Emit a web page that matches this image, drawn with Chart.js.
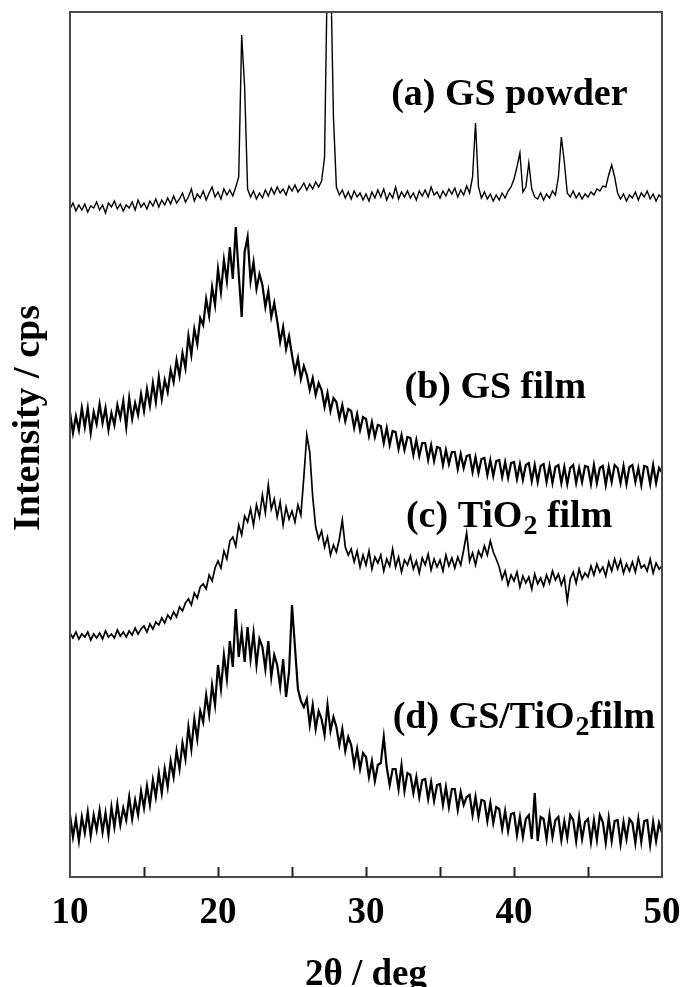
<!DOCTYPE html>
<html>
<head>
<meta charset="utf-8">
<title>XRD patterns</title>
<script src="https://cdn.jsdelivr.net/npm/chart.js@4.4.1/dist/chart.umd.min.js"></script>
<style>
  html, body { margin: 0; padding: 0; background: #fff; }
  #wrap { width: 683px; height: 987px; }
</style>
</head>
<body>
<div id="wrap"><canvas id="xrd" width="683" height="987"></canvas></div>
<script>
/* ── XRD patterns, four stacked traces ──────────────────────────────────────
   2θ is sampled every 0.2° from 10° to 50° (201 points per trace).
   Intensities are in arbitrary units, already offset for stacking.
─────────────────────────────────────────────────────────────────────────── */

const TWO_THETA_START = 10;
const TWO_THETA_STEP  = 0.2;

// (a) GS powder
const gsPowder = [
  668,674,666,672,667, 673,665,671,669,675, 667,672,664,674,670, 676,668,673,666,672,
  669,675,667,677,670, 674,668,676,671,678, 670,677,672,679,673, 681,674,678,684,675,
  680,688,676,683,679, 686,677,684,690,680, 685,678,688,682,687, 681,690,700,842,790,
  688,680,686,678,684, 679,687,681,689,683, 690,684,688,682,691, 686,692,685,689,694,
  687,693,688,695,690, 696,720,920,920,760, 690,682,687,679,685, 678,686,680,684,677,
  683,676,685,679,687, 680,688,677,684,679, 690,678,685,680,686, 679,684,677,686,681,
  687,680,690,682,685, 679,686,681,688,683, 689,680,687,682,691, 684,700,754,690,679,
  685,678,683,676,682, 677,684,679,686,690, 698,710,724,685,690, 714,688,680,678,684,
  677,683,679,686,682, 700,740,715,684,680, 686,679,684,678,683, 680,685,682,688,686,
  691,690,702,712,700, 684,678,683,676,682, 679,685,677,684,680, 686,678,683,676,682,
  679
];

// (b) GS film
const gsFilm = [
  465,444,461,447,469, 450,469,444,465,453, 473,454,469,447,464, 452,472,459,476,450,
  479,458,474,462,483, 466,488,471,494,475, 500,478,497,485,507, 495,517,501,524,509,
  541,522,548,533,559, 552,578,561,590,572, 608,585,617,596,630, 598,650,603,560,625,
  640,596,615,588,603, 592,570,586,560,574, 556,535,550,528,541, 522,505,519,498,511,
  502,487,499,482,494, 487,470,484,466,479, 475,459,472,456,468, 466,449,463,447,460,
  458,441,455,440,452, 451,434,449,432,446, 445,428,442,427,440, 439,422,437,421,434,
  434,417,432,416,430, 429,412,427,413,425, 425,408,423,409,421, 422,405,420,404,418,
  419,402,417,401,416, 417,400,415,399,414, 415,398,413,397,412, 414,396,412,395,411,
  413,395,411,394,410, 412,394,410,393,409, 412,394,409,395,411, 410,393,412,394,409,
  411,392,410,395,412, 409,394,411,393,410, 412,395,409,392,411, 410,393,412,394,409,
  405
];

// (c) TiO2 film
const tio2Film = [
  244,239,245,238,243, 240,245,237,243,239, 244,238,246,240,243, 239,247,241,245,240,
  246,242,249,243,248, 251,245,253,248,255, 252,259,254,262,258, 265,260,270,266,274,
  278,272,284,279,290, 293,288,302,296,309, 316,309,326,318,336, 340,331,352,342,361,
  355,368,352,372,360, 382,364,392,368,378, 360,375,352,370,358, 366,355,372,362,400,
  442,425,380,350,338, 346,330,340,322,332, 325,338,357,330,322, 328,315,326,310,322,
  312,326,308,320,314, 322,306,318,311,328, 310,320,305,317,312, 321,308,316,304,319,
  312,323,307,318,310, 317,306,322,311,319, 309,320,312,327,344, 316,324,312,326,320,
  331,322,336,325,318, 310,298,306,292,302, 296,305,290,301,294, 300,288,303,293,299,
  291,302,294,306,297, 303,292,300,276,298, 305,294,308,298,304, 300,311,302,313,305,
  310,301,315,306,318, 308,317,304,313,306, 315,305,319,309,312, 306,318,304,314,308,
  311
];

// (d) GS/TiO2 film
const gsTio2Film = [
  62,40,58,36,60, 44,65,41,62,47, 67,45,64,42,70, 50,73,52,69,57,
  80,58,77,62,86, 69,91,72,97,80, 104,84,108,90,116, 100,126,108,134,118,
  150,128,158,138,166, 155,182,162,192,172, 212,188,222,198,236, 210,268,220,245,215,
  250,218,244,212,238, 230,208,236,200,222, 212,190,218,180,205, 272,230,188,176,170,
  178,152,172,148,166, 158,142,172,146,160, 150,132,148,126,140, 132,112,128,108,124,
  120,100,116,96,112, 114,140,110,92,108, 108,88,112,86,104, 102,84,100,80,97,
  98,78,95,76,92, 93,72,90,70,88, 88,67,85,72,80, 82,62,80,60,77,
  76,56,74,54,70, 68,48,66,46,63, 64,42,60,40,58, 62,38,84,36,60,
  58,38,62,40,57, 60,37,56,39,62, 57,36,60,38,55, 58,35,57,37,62,
  55,34,59,36,56, 57,33,55,38,58, 54,34,58,35,56, 57,32,55,36,54,
  44
];

const X_MIN = 10, X_MAX = 50, X_STEP = 5;
const Y_MIN = 0,  Y_MAX = 865;

// trace labels (placed in data coordinates), sub = subscript part
const TRACE_LABELS = [
  { x: 31.7, y: 782, head: "(a) GS powder", sub: "",  tail: "" },
  { x: 32.6, y: 489, head: "(b) GS film",   sub: "",  tail: "" },
  { x: 32.7, y: 360, head: "(c) TiO",       sub: "2", tail: " film" },
  { x: 31.8, y: 159, head: "(d) GS/TiO",    sub: "2", tail: "film" },
];

const SERIF = "'Liberation Serif', 'Times New Roman', serif";

function toPoints(values) {
  return values.map((v, i) => ({
    x: +(TWO_THETA_START + i * TWO_THETA_STEP).toFixed(1),
    y: v,
  }));
}

function trace(label, values, width) {
  return {
    label,
    data: toPoints(values),
    borderColor: "#000",
    borderWidth: width,
    pointRadius: 0,
    tension: 0,
    fill: false,
  };
}

// ── frame, inward ticks, y title, trace labels ────────────────────────────────
const decorations = {
  id: "decorations",
  afterDraw(chart) {
    const { ctx, chartArea: a, scales } = chart;
    ctx.save();

    // box
    ctx.strokeStyle = "#4a4a4a";
    ctx.lineWidth = 2;
    ctx.strokeRect(a.left, a.top, a.right - a.left, a.bottom - a.top);

    // inward ticks on the bottom axis
    ctx.strokeStyle = "#222";
    scales.x.ticks.forEach((t) => {
      if (t.value <= X_MIN || t.value >= X_MAX) return;
      const px = Math.round(scales.x.getPixelForValue(t.value)) + 0.5;
      ctx.beginPath();
      ctx.moveTo(px, a.bottom);
      ctx.lineTo(px, a.bottom - 10);
      ctx.stroke();
    });

    // y axis title
    ctx.fillStyle = "#000";
    ctx.font = `bold 38px ${SERIF}`;
    ctx.textAlign = "center";
    ctx.textBaseline = "middle";
    ctx.translate(29, scales.y.getPixelForValue(459));
    ctx.rotate(-Math.PI / 2);
    ctx.fillText("Intensity / cps", 0, 0);
    ctx.setTransform(1, 0, 0, 1, 0, 0);

    // trace labels
    ctx.textAlign = "left";
    ctx.textBaseline = "middle";
    TRACE_LABELS.forEach((l) => {
      let px = scales.x.getPixelForValue(l.x);
      const py = scales.y.getPixelForValue(l.y);
      ctx.font = `bold 38px ${SERIF}`;
      ctx.fillText(l.head, px, py);
      px += ctx.measureText(l.head).width;
      if (l.sub) {
        ctx.font = `bold 28px ${SERIF}`;
        ctx.fillText(l.sub, px + 1, py + 10);
        px += ctx.measureText(l.sub).width + 1;
        ctx.font = `bold 38px ${SERIF}`;
        ctx.fillText(l.tail, px, py);
      }
    });

    ctx.restore();
  },
};

new Chart(document.getElementById("xrd"), {
  type: "line",
  data: {
    datasets: [
      trace("(a) GS powder", gsPowder, 1.4),
      trace("(b) GS film", gsFilm, 2.2),
      trace("(c) TiO2 film", tio2Film, 1.7),
      trace("(d) GS/TiO2 film", gsTio2Film, 2.2),
    ],
  },
  options: {
    responsive: false,
    animation: false,
    devicePixelRatio: 1,
    layout: { padding: { top: 12, right: 21, left: 0, bottom: 0 } },
    plugins: {
      legend: { display: false },
      tooltip: { enabled: false },
    },
    scales: {
      x: {
        type: "linear",
        min: X_MIN,
        max: X_MAX,
        grid: { display: false },
        border: { display: false },
        ticks: {
          stepSize: X_STEP,
          autoSkip: false,
          maxRotation: 0,
          padding: 6,
          color: "#000",
          font: { family: SERIF, weight: "bold", size: 37 },
          callback: (v) => (v % 10 === 0 ? v : ""),
        },
        title: {
          display: true,
          text: "2θ / deg",
          color: "#000",
          font: { family: SERIF, weight: "bold", size: 37, lineHeight: 0.65 },
          padding: { top: 0, bottom: 0 },
        },
        afterFit: (s) => {
          s.height = 110;
          s.paddingLeft = 0;
          s.paddingRight = 0;
        },
      },
      y: {
        min: Y_MIN,
        max: Y_MAX,
        grid: { display: false },
        border: { display: false },
        ticks: { display: false },
        afterFit: (s) => { s.width = 70; },
      },
    },
  },
  plugins: [decorations],
});
</script>
</body>
</html>
